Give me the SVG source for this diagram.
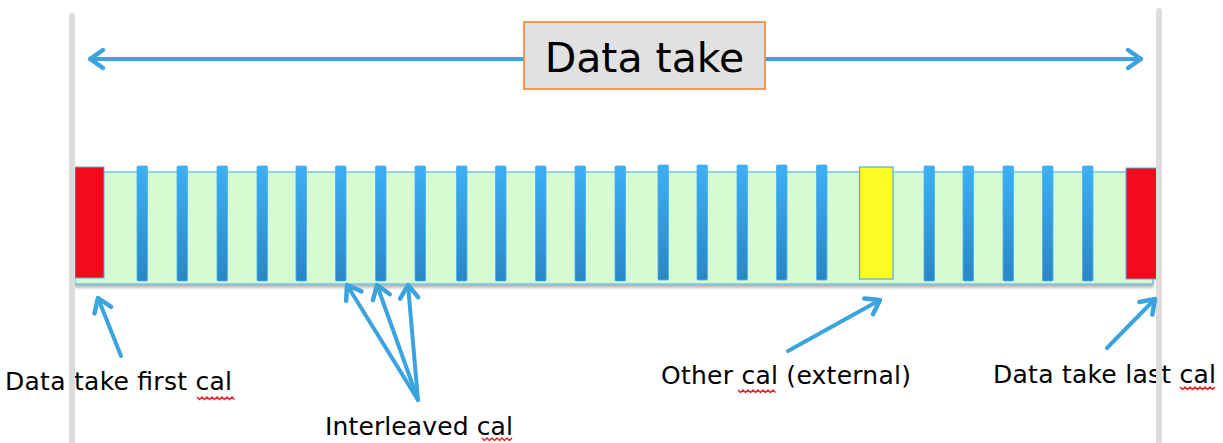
<svg xmlns="http://www.w3.org/2000/svg" width="1223" height="443" viewBox="0 0 1223 443">
<style>
.guide{stroke:#dcdcdc;stroke-width:6;stroke-linecap:round;fill:none}
.conn{stroke:#3ba3dd;stroke-width:4;fill:none;stroke-linecap:round}
.bar{fill:url(#barg);stroke:#4ab0ee;stroke-width:0.8}
.lbl{font-family:"DejaVu Sans","Verdana",sans-serif;font-size:25px;fill:#000}
.sq{stroke:#e8262a;stroke-width:1.5;fill:none}
</style>
<defs>
<linearGradient id="barg" x1="0" y1="0" x2="0" y2="1">
<stop offset="0" stop-color="#3cb0f6"/>
<stop offset="1" stop-color="#2a86c4"/>
</linearGradient>
<filter id="sh" x="-5%" y="-10%" width="110%" height="130%">
<feDropShadow dx="0" dy="3" stdDeviation="1.5" flood-color="#000" flood-opacity="0.3"/>
</filter>
<marker id="ah" viewBox="-18 -13 22 26" markerWidth="22" markerHeight="26" refX="0" refY="0" orient="auto-start-reverse" markerUnits="userSpaceOnUse">
<polyline points="-13,-9 0,0 -13,9" fill="none" stroke="#3ba3dd" stroke-width="4.5" stroke-linecap="round" stroke-linejoin="round"/>
</marker>
</defs>
<rect width="1223" height="443" fill="#fff"/>

<g id="strip">
<rect x="75" y="172" width="1078" height="112" fill="#d6fbd3" stroke="#5bb8e2" stroke-width="1.2" filter="url(#sh)"/>
<line x1="70" y1="166" x2="70" y2="286" stroke="#3a8fc8" stroke-width="1.2"/>
</g>

<g id="first-cal">
<rect x="75" y="167" width="29" height="111" fill="#f40a1c" stroke="#4ab0ee" stroke-width="1"/>
</g>

<g id="interleaved">
<rect class="bar" x="137" y="166" width="10.5" height="115" rx="1"/>
<rect class="bar" x="177" y="166" width="10.5" height="115" rx="1"/>
<rect class="bar" x="217" y="166" width="10.5" height="115" rx="1"/>
<rect class="bar" x="257" y="166" width="10.5" height="115" rx="1"/>
<rect class="bar" x="296" y="166" width="10.5" height="115" rx="1"/>
<rect class="bar" x="335.5" y="166" width="10.5" height="115" rx="1"/>
<rect class="bar" x="375.5" y="166" width="10.5" height="115" rx="1"/>
<rect class="bar" x="415" y="166" width="10.5" height="115" rx="1"/>
<rect class="bar" x="456.5" y="166" width="10.5" height="115" rx="1"/>
<rect class="bar" x="495.5" y="166" width="10.5" height="115" rx="1"/>
<rect class="bar" x="535.5" y="166" width="10.5" height="115" rx="1"/>
<rect class="bar" x="575" y="166" width="10.5" height="115" rx="1"/>
<rect class="bar" x="615" y="166" width="10.5" height="115" rx="1"/>
<rect class="bar" x="658" y="165" width="10.5" height="115" rx="1"/>
<rect class="bar" x="697" y="165" width="10.5" height="115" rx="1"/>
<rect class="bar" x="737" y="165" width="10.5" height="115" rx="1"/>
<rect class="bar" x="776.5" y="165" width="10.5" height="115" rx="1"/>
<rect class="bar" x="816.5" y="165" width="10.5" height="115" rx="1"/>
<rect class="bar" x="924" y="166" width="10.5" height="115" rx="1"/>
<rect class="bar" x="963" y="166" width="10.5" height="115" rx="1"/>
<rect class="bar" x="1003" y="166" width="10.5" height="115" rx="1"/>
<rect class="bar" x="1042.5" y="166" width="10.5" height="115" rx="1"/>
<rect class="bar" x="1082.5" y="166" width="10.5" height="115" rx="1"/>
</g>

<g id="other-cal">
<rect x="859.5" y="167" width="33.5" height="112" fill="#fbfd24" stroke="#4ab0ee" stroke-width="1.2"/>
</g>

<g id="last-cal">
<rect x="1126" y="168" width="31" height="111" fill="#f40a1c" stroke="#4ab0ee" stroke-width="1"/>
</g>

<g id="labels">
<text class="lbl" x="5" y="390" textLength="227" lengthAdjust="spacing">Data take first cal</text>
<path class="sq" d="M197 397 l2.5 2.5 l2.5 -2.5 l2.5 2.5 l2.5 -2.5 l2.5 2.5 l2.5 -2.5 l2.5 2.5 l2.5 -2.5 l2.5 2.5 l2.5 -2.5 l2.5 2.5 l2.5 -2.5 l2.5 2.5 l2.5 -2.5 l2.5 2.5"/>
<text class="lbl" x="325" y="435" textLength="188" lengthAdjust="spacing">Interleaved cal</text>
<path class="sq" d="M482 438 l2.5 2.5 l2.5 -2.5 l2.5 2.5 l2.5 -2.5 l2.5 2.5 l2.5 -2.5 l2.5 2.5 l2.5 -2.5 l2.5 2.5 l2.5 -2.5 l2.5 2.5 l2.5 -2.5"/>
<text class="lbl" x="661" y="384" textLength="250" lengthAdjust="spacing">Other cal (external)</text>
<path class="sq" d="M738 390 l2.5 2.5 l2.5 -2.5 l2.5 2.5 l2.5 -2.5 l2.5 2.5 l2.5 -2.5 l2.5 2.5 l2.5 -2.5 l2.5 2.5 l2.5 -2.5 l2.5 2.5 l2.5 -2.5 l2.5 2.5 l2.5 -2.5 l2.5 2.5"/>
<text class="lbl" x="993" y="383" textLength="223" lengthAdjust="spacing">Data take last cal</text>
<path class="sq" d="M1180 387 l2.5 2.5 l2.5 -2.5 l2.5 2.5 l2.5 -2.5 l2.5 2.5 l2.5 -2.5 l2.5 2.5 l2.5 -2.5 l2.5 2.5 l2.5 -2.5 l2.5 2.5 l2.5 -2.5 l2.5 2.5 l2.5 -2.5"/>
</g>

<g id="guides">
<line class="guide" x1="72" y1="16" x2="72" y2="446"/>
<line class="guide" x1="1159" y1="11" x2="1159" y2="446"/>
</g>

<g id="connectors">
<line class="conn" x1="90" y1="59" x2="1141" y2="59" marker-start="url(#ah)" marker-end="url(#ah)"/>
<line class="conn" x1="121" y1="356" x2="98" y2="298" marker-end="url(#ah)"/>
<line class="conn" x1="418" y1="400" x2="347" y2="285" marker-end="url(#ah)"/>
<line class="conn" x1="418" y1="400" x2="377" y2="285" marker-end="url(#ah)"/>
<line class="conn" x1="418" y1="400" x2="408" y2="285" marker-end="url(#ah)"/>
<line class="conn" x1="788" y1="351" x2="880" y2="300" marker-end="url(#ah)"/>
<line class="conn" x1="1107" y1="348" x2="1155" y2="299" marker-end="url(#ah)"/>
</g>

<g id="title">
<rect x="524" y="22" width="241" height="67" fill="#e1e1e1" stroke="#f28f45" stroke-width="1.8"/>
<text x="644.5" y="72" text-anchor="middle" font-family="DejaVu Sans, Verdana, sans-serif" font-size="41" fill="#000">Data take</text>
</g>
</svg>
